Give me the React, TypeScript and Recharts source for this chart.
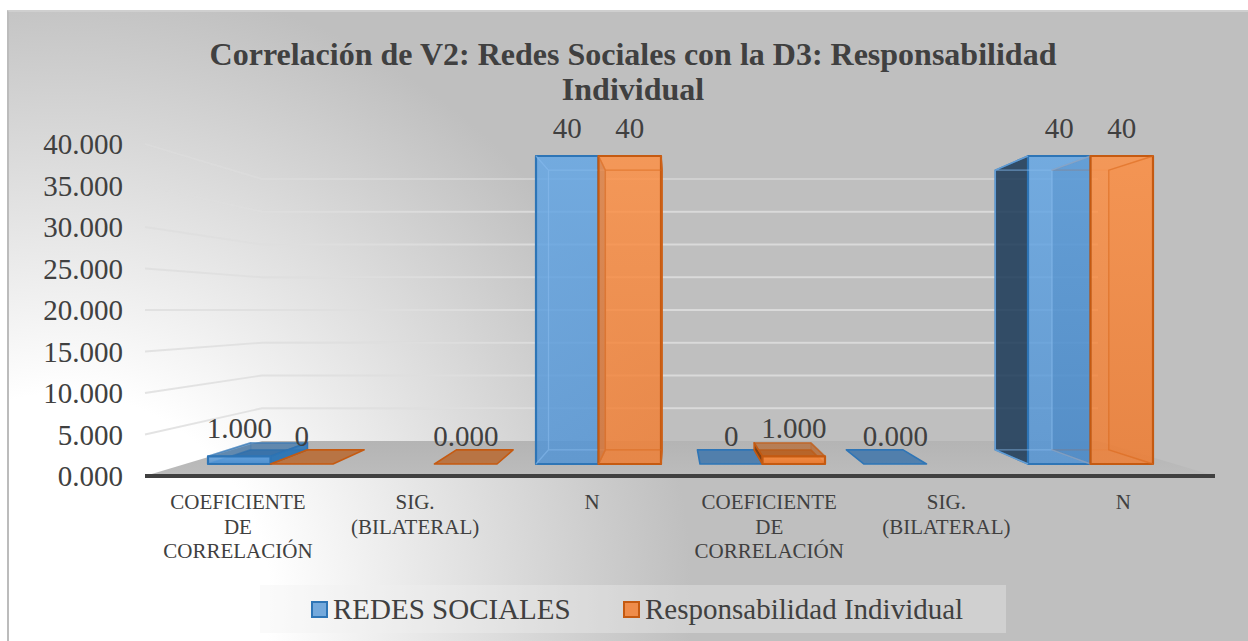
import React from "react";
import { BarChart, Bar, XAxis, YAxis, Legend, LabelList } from "recharts";

const categories = [
  "COEFICIENTE DE CORRELACIÓN",
  "SIG. (BILATERAL)",
  "N",
  "COEFICIENTE DE CORRELACIÓN",
  "SIG. (BILATERAL)",
  "N",
];
const redesValues = [1, null, 40, 0, 0, 40];
const respValues = [0, 0, 40, 1, null, 40];
const redesLabels = ["1.000", "", "40", "0", "0.000", "40"];
const respLabels = ["0", "0.000", "40", "1.000", "", "40"];
const yTicks = [0, 5, 10, 15, 20, 25, 30, 35, 40];
const seriesNames = ["REDES SOCIALES", "Responsabilidad Individual"];
const titleLines = [
  "Correlación de V2: Redes Sociales con la D3: Responsabilidad",
  "Individual",
];

const rows = categories.map((category, i) => ({
  category,
  redes: redesValues[i],
  resp: respValues[i],
  redesLabel: redesLabels[i],
  respLabel: respLabels[i],
}));

const SERIF = "'Liberation Serif', 'Times New Roman', serif";
const TEXT = "#404040";

// perspective of the 3D box: back points shrink towards a vanishing point
const VP = { x: 672, y: 310 };
const DEPTH = 0.908;
const back = (x: number, y: number): [number, number] => [
  VP.x + (x - VP.x) * DEPTH,
  VP.y + (y - VP.y) * DEPTH,
];
const pts = (a: [number, number][]) => a.map((p) => p.join(",")).join(" ");

// chart walls: front edge of the side wall and the back wall, in pixels per axis unit
const FRONT_BASE = 476;
const FRONT_STEP = 332 / 40;
const BACK_BASE = 441;
const BACK_STEP = 262 / 40;

const BLUE = {
  id: "blueFront",
  line: "#2e75b6",
  inner: "#1f3c5a",
  innerOpacity: 0.5,
  outer: "#1f3c5a",
  rimOut: "#2e75b6",
  floor: "#2a6aa8",
  edge: "#8fc0ee",
};
const ORANGE = {
  id: "orangeFront",
  line: "#c55a11",
  inner: "#c55a11",
  innerOpacity: 0.15,
  outer: "#7a3a0c",
  rimOut: "#b4520f",
  floor: "#b85a18",
  edge: "#d9691f",
};

function Box3D(props: any) {
  const { x, y, width, height, value, tone, neighbour } = props;
  if (value === null || value === undefined) return null;
  const l = x;
  const r = x + width;
  const t = y;
  const b = y + height;
  const fl: [number, number] = [l, b];
  const fr: [number, number] = [r, b];
  const tl: [number, number] = [l, t];
  const tr: [number, number] = [r, t];
  const bfl = back(l, b);
  const bfr = back(r, b);
  const btl = back(l, t);
  const btr = back(r, t);
  const common = { stroke: tone.line, strokeWidth: 1.6, strokeLinejoin: "round" as const };
  if (height < 1) {
    return (
      <polygon
        points={pts([fl, fr, bfr, bfl])}
        fill={tone.floor}
        fillOpacity={0.72}
        {...common}
      />
    );
  }
  const tall = height > 50;
  const leftOut = bfl[0] < l;
  const rightOut = bfr[0] > r;
  // a face that touches an equally tall neighbour bar stays hidden
  const hideLeft = leftOut && neighbour !== undefined && neighbour !== null && neighbour >= value;
  return (
    <g>
      <polygon
        points={pts([bfl, bfr, fr, fl])}
        fill={tall ? "none" : tone.floor}
        fillOpacity={0.7}
        {...common}
        strokeOpacity={tall ? 0.15 : 0.6}
      />
      {!hideLeft && (
        <polygon
          points={pts([fl, bfl, btl, tl])}
          fill={leftOut ? tone.outer : "none"}
          fillOpacity={leftOut ? 0.88 : 0}
          {...common}
          strokeOpacity={leftOut ? 1 : 0.25}
        />
      )}
      <polygon
        points={pts([fr, bfr, btr, tr])}
        fill={rightOut ? tone.rimOut : tone.inner}
        fillOpacity={rightOut ? 0.9 : tone.innerOpacity}
        {...common}
        strokeOpacity={rightOut ? 1 : 0.2}
      />
      <polygon
        points={pts([tl, tr, btr, btl])}
        fill={tall ? "none" : tone.floor}
        fillOpacity={0.6}
        {...common}
        strokeOpacity={tall ? 0.15 : 0.6}
      />
      <rect x={l} y={t} width={width} height={height} fill={`url(#${tone.id})`} {...common} strokeWidth={2.2} />
      {tall && (
        <polyline
          points={pts(
            hideLeft
              ? [tr, btr, bfr, fr]
              : [tl, btl, bfl, fl, bfl, bfr, fr, bfr, btr, tr, btr, btl]
          )}
          fill="none"
          stroke={tone.edge}
          strokeOpacity={0.55}
          strokeWidth={1.4}
        />
      )}
    </g>
  );
}

function BarLabel(props: any) {
  const { x, y, width, value } = props;
  if (!value) return null;
  return (
    <text
      x={x + width / 2}
      y={y - 18}
      textAnchor="middle"
      fontFamily={SERIF}
      fontSize={29}
      fill={TEXT}
    >
      {value}
    </text>
  );
}

function YTick(props: any) {
  const { y, payload } = props;
  return (
    <text
      x={123}
      y={y + 10}
      textAnchor="end"
      fontFamily={SERIF}
      fontSize={29}
      fill={TEXT}
    >
      {payload.value.toFixed(3)}
    </text>
  );
}

function XTick(props: any) {
  const { x, payload } = props;
  const words = String(payload.value).split(" ");
  return (
    <text textAnchor="middle" fontFamily={SERIF} fontSize={21} fill={TEXT}>
      {words.map((w, i) => (
        <tspan key={i} x={x} y={509 + i * 24.5}>
          {w}
        </tspan>
      ))}
    </text>
  );
}

function Walls() {
  return (
    <g>
      <defs>
        <linearGradient id="floorShade" x1="0" y1="0" x2="0" y2="1">
          <stop offset="0" stopColor="#b4b4b4" />
          <stop offset="1" stopColor="#bcbcbc" />
        </linearGradient>
        <linearGradient id="blueFront" x1="0" y1="0" x2="0" y2="1">
          <stop offset="0" stopColor="#62a6e6" stopOpacity={0.82} />
          <stop offset="1" stopColor="#4f92d4" stopOpacity={0.82} />
        </linearGradient>
        <linearGradient id="orangeFront" x1="0" y1="0" x2="0" y2="1">
          <stop offset="0" stopColor="#ff8f42" stopOpacity={0.82} />
          <stop offset="1" stopColor="#f07c30" stopOpacity={0.82} />
        </linearGradient>
      </defs>
      {yTicks
        .filter((v) => v > 0)
        .map((v) => {
          const fy = FRONT_BASE - v * FRONT_STEP;
          const by = BACK_BASE - v * BACK_STEP;
          return (
            <polyline
              key={v}
              points={`145,${fy} 262,${by} 1098,${by}`}
              fill="none"
              stroke="#dedede"
              strokeOpacity={v === 40 ? 0.55 : 0.85}
              strokeWidth={1.8}
            />
          );
        })}
      <polygon points={`145,${FRONT_BASE} 262,${BACK_BASE} 1098,${BACK_BASE} 1215,${FRONT_BASE}`} fill="url(#floorShade)" />
      <line x1={145} y1={FRONT_BASE} x2={1215} y2={FRONT_BASE} stroke="#404040" strokeWidth={4} />
    </g>
  );
}

function LegendBox() {
  const swatch = (fill: string, line: string) => ({
    display: "inline-block",
    boxSizing: "border-box" as const,
    width: 17,
    height: 17,
    background: fill,
    border: `2px solid ${line}`,
    marginRight: 5,
  });
  return (
    <div
      style={{
        width: 746,
        height: 48,
        background: "rgba(240,240,240,0.35)",
        fontFamily: SERIF,
        fontSize: 29,
        color: TEXT,
        position: "relative",
        whiteSpace: "nowrap",
      }}
    >
      <span style={{ position: "absolute", left: 51, top: 7, display: "flex", alignItems: "center", lineHeight: "34px" }}>
        <span style={swatch("#74a9dc", BLUE.line)} />
        {seriesNames[0]}
      </span>
      <span style={{ position: "absolute", left: 363, top: 7, display: "flex", alignItems: "center", lineHeight: "34px" }}>
        <span style={swatch("#ef8c4a", ORANGE.line)} />
        {seriesNames[1]}
      </span>
    </div>
  );
}

export default function App() {
  return (
    <div style={{ position: "absolute", left: 0, top: 0, width: 1248, height: 641, overflow: "hidden", background: "#fff" }}>
      <div
        style={{
          position: "absolute",
          left: 7,
          top: 10,
          width: 1260,
          height: 650,
          boxSizing: "border-box",
          borderLeft: "2px solid #bcbcbc",
          borderTop: "2px solid #cfcfcf",
          background:
            "radial-gradient(ellipse 630px 630px at 53px 590px, #ffffff 33%, #bfbfbf 100%)",
        }}
      />
      <div
        style={{
          position: "absolute",
          left: 0,
          top: 37,
          width: 1266,
          textAlign: "center",
          fontFamily: SERIF,
          fontWeight: 700,
          fontSize: 32,
          lineHeight: "35px",
          color: TEXT,
        }}
      >
        {titleLines.map((t) => (
          <div key={t}>{t}</div>
        ))}
      </div>
      <div style={{ position: "absolute", left: 0, top: 0 }}>
        <BarChart
          width={1248}
          height={641}
          data={rows}
          margin={{ top: 144, right: 36, bottom: 0, left: 0 }}
          barGap={0}
          barSize={62.5}
        >
          <Walls />
          <XAxis
            dataKey="category"
            xAxisId="labels"
            height={117}
            axisLine={false}
            tickLine={false}
            interval={0}
            tick={<XTick />}
          />
          <XAxis
            dataKey="category"
            xAxisId="bars"
            hide
            padding={{ left: 38.6, right: 40 }}
          />
          <YAxis
            yAxisId="labels"
            width={149.4}
            domain={[0, 40]}
            ticks={yTicks}
            allowDataOverflow
            interval={0}
            axisLine={false}
            tickLine={false}
            tick={<YTick />}
          />
          <YAxis yAxisId="bars" hide domain={[-1.558, 41.558]} />
          <Legend
            content={<LegendBox />}
            wrapperStyle={{ position: "absolute", left: 260, top: 585, width: 746, height: 48 }}
          />
          <Bar
            dataKey="redes"
            name={seriesNames[0]}
            xAxisId="bars"
            yAxisId="bars"
            isAnimationActive={false}
            shape={(p: any) => <Box3D {...p} tone={BLUE} />}
          >
            <LabelList dataKey="redesLabel" content={<BarLabel />} />
          </Bar>
          <Bar
            dataKey="resp"
            name={seriesNames[1]}
            xAxisId="bars"
            yAxisId="bars"
            isAnimationActive={false}
            shape={(p: any) => <Box3D {...p} tone={ORANGE} neighbour={p.payload?.redes} />}
          >
            <LabelList dataKey="respLabel" content={<BarLabel />} />
          </Bar>
        </BarChart>
      </div>
    </div>
  );
}
